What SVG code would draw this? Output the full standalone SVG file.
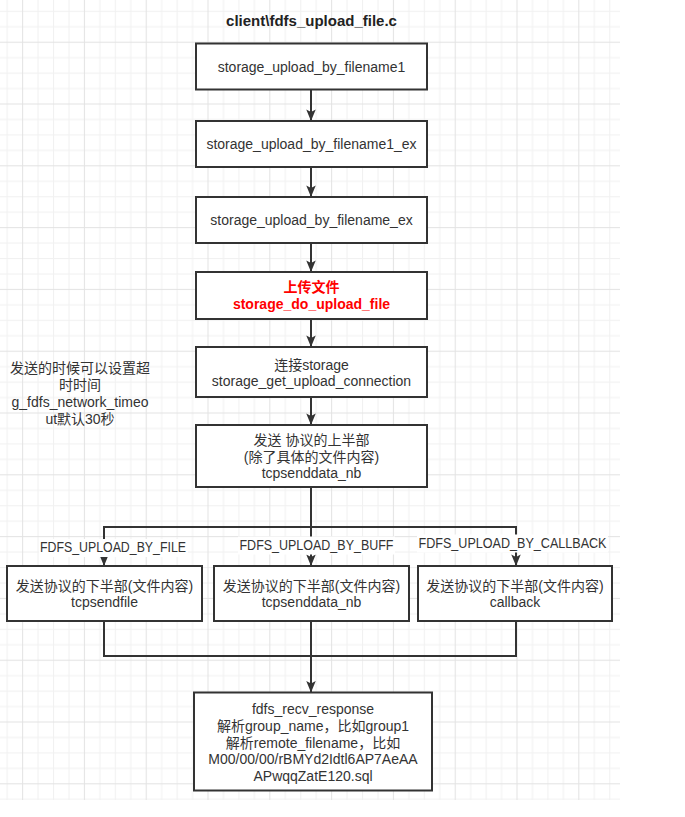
<svg xmlns="http://www.w3.org/2000/svg" width="685" height="817" viewBox="0 0 685 817">
<defs>
<pattern id="grid" patternUnits="userSpaceOnUse" x="22.1" y="41.7" width="61.8" height="61.8">
<rect x="0" y="0" width="61.8" height="61.8" fill="#ffffff"/>
<rect x="15.45" y="0" width="1" height="61.8" fill="#f1f1f1"/>
<rect x="30.9" y="0" width="1" height="61.8" fill="#f1f1f1"/>
<rect x="46.35" y="0" width="1" height="61.8" fill="#f1f1f1"/>
<rect x="0" y="15.45" width="61.8" height="1" fill="#f1f1f1"/>
<rect x="0" y="30.9" width="61.8" height="1" fill="#f1f1f1"/>
<rect x="0" y="46.35" width="61.8" height="1" fill="#f1f1f1"/>
<rect x="0" y="0" width="1" height="61.8" fill="#e3e3e3"/>
<rect x="0" y="0" width="61.8" height="1" fill="#e3e3e3"/>
</pattern>
<marker id="arrow" markerUnits="userSpaceOnUse" viewBox="0 0 12 10" refX="12" refY="5" markerWidth="12" markerHeight="9.5" orient="auto">
<path d="M0,0 L12,5 L0,10 L2.5,5 Z" fill="#333333"/>
</marker>
<style>
.box{fill:#ffffff;stroke:#333333;stroke-width:2}
.t{font-family:"Liberation Sans","Noto Sans CJK SC",sans-serif;font-size:14px;fill:#333333;text-anchor:middle;dominant-baseline:central}
.red{fill:#ff0000;font-weight:bold}
.title{font-weight:bold;font-size:15px;fill:#222222}
.conn{fill:none;stroke:#333333;stroke-width:2}
.lblbg{fill:#ffffff}
</style>
</defs>
<rect x="0" y="0" width="685" height="817" fill="#ffffff"/>
<rect x="0" y="0" width="620" height="800" fill="url(#grid)"/>

<g id="title">
<text class="t title" x="311.5" y="20">client\fdfs_upload_file.c</text>
</g>

<g id="note">
<text class="t" x="80" y="367.5">发送的时候可以设置超</text>
<text class="t" x="80" y="384.7">时时间</text>
<text class="t" x="80" y="401.9">g_fdfs_network_timeo</text>
<text class="t" x="80" y="419.1">ut默认30秒</text>
</g>

<g id="connectors">
<path class="conn" d="M311 89.5 V121" marker-end="url(#arrow)"/>
<path class="conn" d="M311 167 V197" marker-end="url(#arrow)"/>
<path class="conn" d="M311 243 V272" marker-end="url(#arrow)"/>
<path class="conn" d="M311 319 V347" marker-end="url(#arrow)"/>
<path class="conn" d="M311 397 V425" marker-end="url(#arrow)"/>
<path class="conn" d="M311 487 V566" marker-end="url(#arrow)"/>
<path class="conn" d="M311 527 H104 V566" marker-end="url(#arrow)"/>
<path class="conn" d="M311 527 H516 V566" marker-end="url(#arrow)"/>
<path class="conn" d="M104 621 V656 H311"/>
<path class="conn" d="M516 621 V656 H311"/>
<path class="conn" d="M311 621 V692.5" marker-end="url(#arrow)"/>
<rect class="lblbg" x="39" y="539" width="149" height="18"/>
<text class="t" x="113" y="547" textLength="146" lengthAdjust="spacingAndGlyphs">FDFS_UPLOAD_BY_FILE</text>
<rect class="lblbg" x="238" y="536.5" width="157" height="18"/>
<text class="t" x="316.5" y="545" textLength="154" lengthAdjust="spacingAndGlyphs">FDFS_UPLOAD_BY_BUFF</text>
<rect class="lblbg" x="417" y="534.5" width="191" height="18"/>
<text class="t" x="512.5" y="543" textLength="188" lengthAdjust="spacingAndGlyphs">FDFS_UPLOAD_BY_CALLBACK</text>
</g>

<g id="n1">
<rect class="box" x="196" y="43.5" width="231" height="46"/>
<text class="t" x="311.5" y="66.5">storage_upload_by_filename1</text>
</g>
<g id="n2">
<rect class="box" x="196" y="121" width="231" height="46"/>
<text class="t" x="311.5" y="144">storage_upload_by_filename1_ex</text>
</g>
<g id="n3">
<rect class="box" x="196" y="197" width="231" height="46"/>
<text class="t" x="311.5" y="220">storage_upload_by_filename_ex</text>
</g>
<g id="n4">
<rect class="box" x="196" y="272" width="231" height="47"/>
<text class="t red" x="311.5" y="287">上传文件</text>
<text class="t red" x="311.5" y="303.5">storage_do_upload_file</text>
</g>
<g id="n5">
<rect class="box" x="196" y="347" width="231" height="50"/>
<text class="t" x="311.5" y="365">连接storage</text>
<text class="t" x="311.5" y="381">storage_get_upload_connection</text>
</g>
<g id="n6">
<rect class="box" x="196" y="425" width="231" height="62"/>
<text class="t" x="311.5" y="440">发送 协议的上半部</text>
<text class="t" x="311.5" y="457">(除了具体的文件内容)</text>
<text class="t" x="311.5" y="473">tcpsenddata_nb</text>
</g>
<g id="n7">
<rect class="box" x="7" y="566" width="195" height="55"/>
<text class="t" x="104.5" y="586">发送协议的下半部(文件内容)</text>
<text class="t" x="104.5" y="602">tcpsendfile</text>
</g>
<g id="n8">
<rect class="box" x="214" y="566" width="195" height="55"/>
<text class="t" x="311.5" y="586">发送协议的下半部(文件内容)</text>
<text class="t" x="311.5" y="602">tcpsenddata_nb</text>
</g>
<g id="n9">
<rect class="box" x="418" y="566" width="194" height="55"/>
<text class="t" x="515" y="586">发送协议的下半部(文件内容)</text>
<text class="t" x="515" y="602">callback</text>
</g>
<g id="n10">
<rect class="box" x="194" y="692.5" width="238" height="98"/>
<text class="t" x="313" y="709">fdfs_recv_response</text>
<text class="t" x="313" y="726">解析group_name，比如group1</text>
<text class="t" x="313" y="742.7">解析remote_filename，比如</text>
<text class="t" x="313" y="759.3">M00/00/00/rBMYd2Idtl6AP7AeAA</text>
<text class="t" x="313" y="776">APwqqZatE120.sql</text>
</g>
</svg>
